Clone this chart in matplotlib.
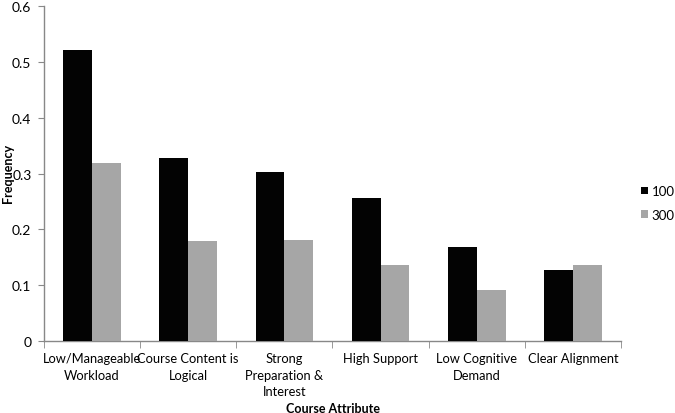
import matplotlib
matplotlib.use("Agg")
import matplotlib.pyplot as plt
import numpy as np

categories = ["Low/Manageable\nWorkload", "Course Content is\nLogical",
              "Strong\nPreparation &\nInterest", "High Support",
              "Low Cognitive\nDemand", "Clear Alignment"]
series_names = ["100", "300"]
values_100 = [0.521, 0.328, 0.3025, 0.256, 0.1675, 0.127]
values_300 = [0.318, 0.180, 0.1806, 0.1368, 0.0906, 0.1368]
yticks = [0, 0.1, 0.2, 0.3, 0.4, 0.5, 0.6]
ytick_labels = ["0", "0.1", "0.2", "0.3", "0.4", "0.5", "0.6"]

plt.rcParams['font.family'] = ['Lato', 'DejaVu Sans']

fig = plt.figure(figsize=(6.75, 4.14), dpi=100)
ax = fig.add_axes([44/675, 72/414, (621-44)/675, (342-7)/414])

x = np.arange(len(categories))
w = 0.3
ax.bar(x - w/2, values_100, width=w, color="#030303", label=series_names[0], zorder=3)
ax.bar(x + w/2, values_300, width=w, color="#a6a6a6", label=series_names[1], zorder=3)

ax.set_xlim(-0.5, len(categories) - 0.5)
ax.set_ylim(0, 0.6)
ax.set_yticks(yticks)
ax.set_yticklabels(ytick_labels, fontsize=10)

ax.set_xticks(x)
ax.set_xticklabels(categories, fontsize=9.3, linespacing=1.45)
ax.tick_params(axis='x', which='major', length=0, pad=8)
ax.set_xticks(np.arange(-0.5, len(categories) + 0.5, 1), minor=True)
ax.tick_params(axis='x', which='minor', length=5, color="#888888", direction='out')
ax.tick_params(axis='y', length=4, color="#888888", direction='out', pad=5)

for s in ['top', 'right']:
    ax.spines[s].set_visible(False)
for s in ['left', 'bottom']:
    ax.spines[s].set_color("#888888")
    ax.spines[s].set_linewidth(1.0)

fig.text(8/675, 1 - 173/414, "Frequency", fontsize=9, fontweight='bold',
         rotation=90, ha='center', va='center')
fig.text(333/675, 1 - 409/414, "Course Attribute", fontsize=9, fontweight='bold',
         ha='center', va='center')

ax.legend(loc='center left', bbox_to_anchor=(641/675, 210/414), bbox_transform=fig.transFigure,
          frameon=False, fontsize=9.5, handlelength=0.5, handleheight=0.5,
          handletextpad=0.3, labelspacing=0.9, borderaxespad=0, borderpad=0)

fig.savefig("out.png", dpi=100)
